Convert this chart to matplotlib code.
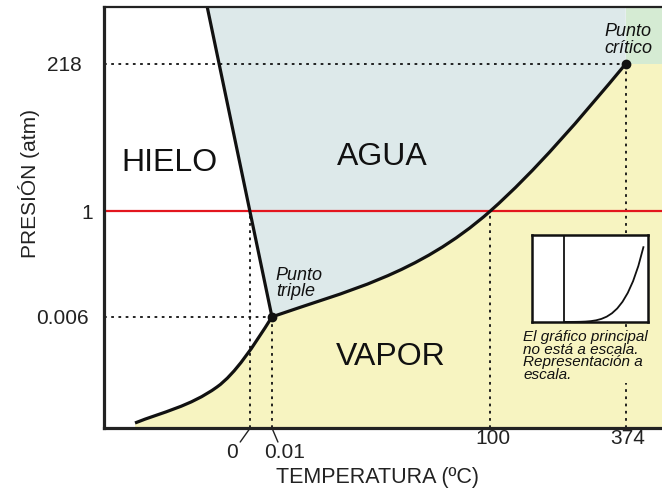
import matplotlib.pyplot as plt
from matplotlib.path import Path
from matplotlib.patches import PathPatch

plt.rcParams['font.family'] = ['Liberation Sans', 'DejaVu Sans']

# Diagrama de fases esquemático (no a escala), unidades del esquema 0-100
temp_labels = ['0', '0.01', '100', '374']
temp_pos = [26.2, 30.1, 69.2, 93.5]
pres_labels = ['0.006', '1', '218']
pres_pos = [26.4, 51.5, 86.5]

# línea de fusión (sólido-líquido)
fus_x = [18.5, 30.1]
fus_y = [100.0, 26.4]

sub_x = [5.56, 10.46, 15.35, 20.25, 23.54, 26.82, 30.1]
sub_y = [1.19, 3.79, 5.09, 9.74, 12.87, 19.47, 26.4]

# curva de vaporización (líquido-gas): puntos de control Bézier
vap_x = [30.1, 43.1, 56.2, 69.2, 77.3, 85.4, 93.5]
vap_y = [26.4, 32.4, 36.3, 51.5, 61.0, 73.6, 86.5]

# gráfico a escala: presión de vapor del agua (atm) frente a temperatura (ºC)
real_t = [0.01, 25, 50, 75, 100, 125, 150, 175, 200, 225, 250, 275, 300, 325, 350, 374]
real_p = [0.006, 0.031, 0.122, 0.38, 1.0, 2.29, 4.70, 8.8, 15.3, 25.2, 39.3, 58.8, 84.8, 118.9, 163.2, 218]

triple = (vap_x[0], vap_y[0])
critico = (vap_x[-1], vap_y[-1])

col_agua = '#dde9ea'
col_vapor = '#f7f4c1'
col_super = '#d5ebd3'
col_line = '#111111'

sub_pts = list(zip(sub_x, sub_y))
vap_pts = list(zip(vap_x, vap_y))
C4 = Path.CURVE4

fig = plt.figure(figsize=(6.62, 4.91), dpi=100)
ax = fig.add_axes([104 / 662, 63 / 491, 558 / 662, 421 / 491])
ax.set_xlim(0, 100)
ax.set_ylim(0, 100)

# regiones
agua = Path([(fus_x[0], fus_y[0])] + vap_pts + [(critico[0], 100), (0, 0)],
            [Path.MOVETO] + [Path.LINETO] + [C4] * 6 + [Path.LINETO, Path.CLOSEPOLY])
ax.add_patch(PathPatch(agua, facecolor=col_agua, lw=0, zorder=0))

vapor = Path([(sub_x[0], 0)] + sub_pts + vap_pts[1:] + [(100, critico[1]), (100, 0), (0, 0)],
             [Path.MOVETO, Path.LINETO] + [C4] * 12 + [Path.LINETO, Path.LINETO, Path.CLOSEPOLY])
ax.add_patch(PathPatch(vapor, facecolor=col_vapor, lw=0, zorder=0))

ax.fill([critico[0], 100, 100, critico[0]], [critico[1], critico[1], 100, 100],
        color=col_super, lw=0, zorder=0)

# líneas de referencia punteadas
dot = dict(color=col_line, lw=1.3, ls=(0, (1.5, 2.5)), zorder=1)
ax.plot([0, critico[0]], [critico[1], critico[1]], **dot)
ax.plot([0, triple[0]], [triple[1], triple[1]], **dot)
ax.plot([temp_pos[0], temp_pos[0]], [0, pres_pos[1]], **dot)
ax.plot([triple[0], triple[0]], [0, triple[1]], **dot)
ax.plot([temp_pos[2], temp_pos[2]], [0, pres_pos[1]], **dot)
ax.plot([critico[0], critico[0]], [0, critico[1]], **dot)

# 1 atm
ax.axhline(pres_pos[1], color='#e3161e', lw=1.6, zorder=2)

# curvas de equilibrio
ax.plot(fus_x, fus_y, color=col_line, lw=2.3, zorder=3, solid_capstyle='butt')
ax.add_patch(PathPatch(Path(sub_pts, [Path.MOVETO] + [C4] * 6), fill=False,
                       edgecolor=col_line, lw=2.3, zorder=3, capstyle='butt'))
ax.add_patch(PathPatch(Path(vap_pts, [Path.MOVETO] + [C4] * 6), fill=False,
                       edgecolor=col_line, lw=2.3, zorder=3))
ax.plot(*triple, 'o', color=col_line, ms=6, zorder=4)
ax.plot(*critico, 'o', color=col_line, ms=6, zorder=4)

# ejes
ax.set_xticks([])
ax.set_yticks([])
ax.spines['right'].set_visible(False)
ax.spines['left'].set_linewidth(2.3)
ax.spines['bottom'].set_linewidth(2.3)
ax.spines['top'].set_linewidth(1.6)
for s in ax.spines.values():
    s.set_color('#222222')
    s.set_zorder(7)

tick_kw = dict(textcoords='offset points', fontsize=15, color='#222222',
               annotation_clip=False)
# etiquetas de temperatura (0 y 0.01 desplazadas con una pequeña línea)
x_offsets = [(-13, -17.3), (9.4, -17.3), (2.2, -7.9), (1.4, -7.9)]
for lab, pos, off in zip(temp_labels, temp_pos, x_offsets):
    ax.annotate(lab, xy=(pos, 0), xytext=off, ha='center', va='center', **tick_kw)
ax.annotate('', xy=(temp_pos[0], 0), xytext=(-7.2, -10.1), textcoords='offset points',
            arrowprops=dict(arrowstyle='-', lw=1, color='#222222', shrinkA=0, shrinkB=1.5),
            annotation_clip=False)
ax.annotate('', xy=(temp_pos[1], 0), xytext=(4.3, -10.1), textcoords='offset points',
            arrowprops=dict(arrowstyle='-', lw=1, color='#222222', shrinkA=0, shrinkB=1.5),
            annotation_clip=False)

y_offsets = [-10.8, -7.9, -15.8]
for lab, pos, off in zip(pres_labels, pres_pos, y_offsets):
    ax.annotate(lab, xy=(0, pos), xytext=(off, 0), ha='right', va='center_baseline', **tick_kw)

fig.text(377 / 662, 1 - 477 / 491, 'TEMPERATURA (ºC)', ha='center', va='center',
         fontsize=15.5, color='#222222')
fig.text(29 / 662, 1 - 183 / 491, 'PRESIÓN (atm)', ha='center', va='center',
         rotation=90, fontsize=15, color='#222222')

# nombres de las fases
ax.text(11.8, 62.9, 'HIELO', ha='center', va='center', fontsize=23, color=col_line)
ax.text(49.8, 64.4, 'AGUA', ha='center', va='center', fontsize=23, color=col_line)
ax.text(51.3, 16.9, 'VAPOR', ha='center', va='center', fontsize=23, color=col_line)

ax.text(30.8, 34.4, 'Punto\ntriple', ha='left', va='center', fontsize=13,
        style='italic', linespacing=0.95, color=col_line, zorder=5)
ax.text(93.9, 92.2, 'Punto\ncrítico', ha='center', va='center', fontsize=13,
        style='italic', linespacing=0.95, color=col_line, zorder=5)

# recuadro con la representación a escala
ins = ax.inset_axes([76.7, 25.2, 20.8, 20.6], transform=ax.transData, zorder=6)
ins.set_facecolor('white')
ins.axvline(0, color=col_line, lw=1.3)
ins.plot(real_t, real_p, color=col_line, lw=1.3)
ins.set_xlim(-154, 396)
ins.set_ylim(0, 253)
ins.set_xticks([])
ins.set_yticks([])
for s in ins.spines.values():
    s.set_linewidth(1.8)
    s.set_color(col_line)

ax.text(75.1, 23.3, 'El gráfico principal\nno está a escala.\nRepresentación a\nescala.',
        ha='left', va='top', fontsize=11, style='italic', linespacing=0.88,
        color=col_line, zorder=6,
        bbox=dict(facecolor=col_vapor, edgecolor='none', pad=1))

fig.savefig('out.png', dpi=100)
